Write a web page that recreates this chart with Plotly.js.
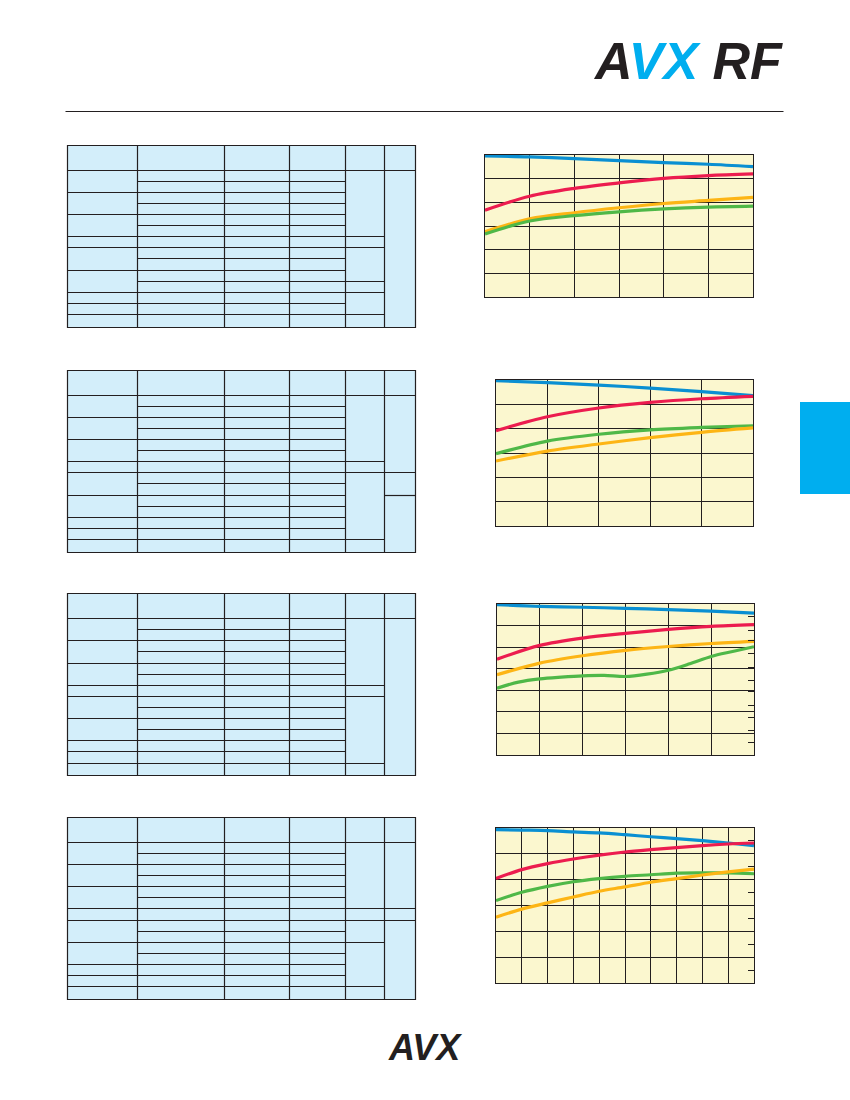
<!DOCTYPE html>
<html>
<head>
<meta charset="utf-8">
<script src="https://cdn.plot.ly/plotly-3.0.1.min.js"></script>
<style>html,body{margin:0;padding:0;background:#fff;}#chart{width:850px;height:1100px;}</style>
</head>
<body>
<div id="chart"></div>
<script>
// ---------------- DATA (in grid units) ----------------
// Chart 1 : 6 x-divisions, 6 y-divisions
const x1 = [0, 1, 2, 3, 4, 5, 6];
const c1Blue   = [5.96, 5.92, 5.85, 5.76, 5.68, 5.61, 5.51];
const c1Red    = [3.67, 4.26, 4.59, 4.82, 5.01, 5.13, 5.20];
const c1Orange = [2.76, 3.30, 3.56, 3.77, 3.95, 4.08, 4.21];
const c1Green  = [2.66, 3.21, 3.44, 3.60, 3.72, 3.80, 3.84];

// Chart 2 : 5 x-divisions, 6 y-divisions
const x2 = [0, 1, 2, 3, 4, 5];
const c2Blue   = [5.97, 5.89, 5.79, 5.67, 5.52, 5.36];
const c2Red    = [3.92, 4.49, 4.85, 5.08, 5.23, 5.33];
const c2Green  = [2.97, 3.49, 3.77, 3.95, 4.05, 4.12];
const c2Orange = [2.67, 3.08, 3.37, 3.63, 3.85, 4.03];

// Chart 3 : 6 x-divisions, 7 y-divisions
const x3 = [0, 1, 2, 3, 4, 5, 6];
const c3Blue   = [6.97, 6.89, 6.85, 6.80, 6.74, 6.67, 6.58];
const c3Red    = [4.44, 5.08, 5.42, 5.64, 5.82, 5.96, 6.04];
const c3Orange = [3.72, 4.26, 4.60, 4.85, 5.03, 5.17, 5.27];
const x3g      = [0, 0.5, 1, 1.5, 2, 2.5, 3, 3.5, 4, 4.5, 5, 5.5, 6];
const c3Green  = [3.10, 3.38, 3.53, 3.61, 3.67, 3.69, 3.64, 3.75, 3.93, 4.23, 4.57, 4.80, 5.02];
const c3RightTicks = [0.56, 1.15, 1.73, 2.31, 2.93, 3.47, 4.07, 4.71, 5.31, 5.76, 6.43];

// Chart 4 : 10 x-divisions, 6 y-divisions
const x4 = [0, 1, 2, 3, 4, 5, 6, 7, 8, 9, 10];
const c4Blue   = [5.94, 5.92, 5.90, 5.85, 5.81, 5.74, 5.66, 5.59, 5.51, 5.42, 5.32];
const c4Red    = [4.05, 4.39, 4.62, 4.80, 4.95, 5.07, 5.16, 5.24, 5.32, 5.38, 5.42];
const c4Green  = [3.19, 3.51, 3.74, 3.92, 4.04, 4.13, 4.19, 4.25, 4.26, 4.26, 4.23];
const c4Orange = [2.55, 2.86, 3.10, 3.33, 3.55, 3.72, 3.90, 4.04, 4.18, 4.30, 4.41];
const c4RightTicks = [0.5, 1.5, 2.5, 3.5, 4.5, 5.5];

// ---------------- STYLE ----------------
const BLUE = '#0a8fd2', RED = '#ec1c4f', ORANGE = '#fdb515', GREEN = '#4fb848';
const INK = '#231f20', PLOTBG = '#fbf7cf', TABLEBG = '#d3eefa', TAB = '#00aeef';
const W = 850, H = 1100;
const crisp = v => Math.round(v - 0.5) + 0.5;
const px = v => crisp(v) / W;
const py = v => 1 - crisp(v) / H;
const dx = v => v / W;
const dy = v => 1 - v / H;

function line(x, y, color, xa, ya) {
  return {x: x, y: y, type: 'scatter', mode: 'lines', xaxis: xa, yaxis: ya,
    line: {color: color, width: 3.2, shape: 'spline', smoothing: 0.9},
    hoverinfo: 'skip', showlegend: false};
}

const data = [
  line(x1, c1Blue, BLUE, 'x', 'y'), line(x1, c1Red, RED, 'x', 'y'),
  line(x1, c1Orange, ORANGE, 'x', 'y'), line(x1, c1Green, GREEN, 'x', 'y'),
  line(x2, c2Blue, BLUE, 'x2', 'y2'), line(x2, c2Red, RED, 'x2', 'y2'),
  line(x2, c2Green, GREEN, 'x2', 'y2'), line(x2, c2Orange, ORANGE, 'x2', 'y2'),
  line(x3, c3Blue, BLUE, 'x3', 'y3'), line(x3, c3Red, RED, 'x3', 'y3'),
  line(x3, c3Orange, ORANGE, 'x3', 'y3'), line(x3g, c3Green, GREEN, 'x3', 'y3'),
  line(x4, c4Blue, BLUE, 'x4', 'y4'), line(x4, c4Red, RED, 'x4', 'y4'),
  line(x4, c4Green, GREEN, 'x4', 'y4'), line(x4, c4Orange, ORANGE, 'x4', 'y4'),
  // invisible traces anchoring the right-side tick axes
  {x: [0], y: [0], xaxis: 'x3', yaxis: 'y5', mode: 'markers', marker: {opacity: 0}, hoverinfo: 'skip', showlegend: false},
  {x: [0], y: [0], xaxis: 'x4', yaxis: 'y6', mode: 'markers', marker: {opacity: 0}, hoverinfo: 'skip', showlegend: false}
];

function xax(domain, n, anchor) {
  return {domain: [dx(domain[0]), dx(domain[1])], range: [0, n], dtick: 1, tick0: 0,
    showgrid: true, gridcolor: INK, gridwidth: 1, showline: true, mirror: true,
    linecolor: INK, linewidth: 1, zeroline: false, showticklabels: false,
    ticks: '', anchor: anchor, fixedrange: true};
}
function yax(domain, n, anchor) {
  return {domain: [dy(domain[1]), dy(domain[0])], range: [0, n], dtick: 1, tick0: 0,
    showgrid: true, gridcolor: INK, gridwidth: 1, showline: true, mirror: true,
    linecolor: INK, linewidth: 1, zeroline: false, showticklabels: false,
    ticks: '', anchor: anchor, fixedrange: true};
}

const layout = {
  width: W, height: H, margin: {l: 0, r: 0, t: 0, b: 0},
  paper_bgcolor: '#ffffff', plot_bgcolor: PLOTBG, showlegend: false, hovermode: false,
  font: {family: 'Liberation Sans, Arial, sans-serif', color: INK},
  xaxis:  xax([485, 753], 6, 'y'),  yaxis:  yax([155, 297], 6, 'x'),
  xaxis2: xax([496, 753], 5, 'y2'), yaxis2: yax([380, 526], 6, 'x2'),
  xaxis3: xax([497, 754], 6, 'y3'), yaxis3: yax([604, 755], 7, 'x3'),
  xaxis4: xax([496, 754], 10, 'y4'), yaxis4: yax([828, 983], 6, 'x4'),
  yaxis5: {overlaying: 'y3', side: 'right', anchor: 'x3', range: [0, 7], tickmode: 'array',
    tickvals: c3RightTicks, ticks: 'inside', ticklen: 6, tickwidth: 1, tickcolor: INK,
    showticklabels: false, showgrid: false, zeroline: false, showline: false, fixedrange: true},
  yaxis6: {overlaying: 'y4', side: 'right', anchor: 'x4', range: [0, 6], tickmode: 'array',
    tickvals: c4RightTicks, ticks: 'inside', ticklen: 6, tickwidth: 1, tickcolor: INK,
    showticklabels: false, showgrid: false, zeroline: false, showline: false, fixedrange: true},
  shapes: [],
  annotations: []
};

// ---------------- PAGE DECORATION ----------------
// header rule
layout.shapes.push({type: 'line', xref: 'paper', yref: 'paper', x0: px(65), x1: px(783), y0: py(111), y1: py(111),
  line: {color: INK, width: 1}});
// blue side tab
layout.shapes.push({type: 'rect', xref: 'paper', yref: 'paper', x0: dx(800), x1: dx(850), y0: dy(494), y1: dy(402),
  fillcolor: TAB, line: {width: 0}});

// tables (empty grid structure)
const cols = [67.3, 137.3, 224.3, 289.3, 345.3, 384.3, 415.7];
const tables = [
  {top: 145.3, bottom: 327.3, header: 170.3, rows: [
    [181.3, 1, 4], [192.3, 0, 4], [203.3, 1, 4], [214.3, 0, 4], [225.3, 1, 4], [236.3, 0, 5],
    [247.3, 0, 5], [258.3, 1, 4], [270.3, 0, 4], [281.3, 1, 5], [292.3, 0, 5], [303.3, 0, 4], [314.3, 0, 5]]},
  {top: 370.3, bottom: 552.3, header: 395.3, rows: [
    [406.3, 1, 4], [417.3, 0, 4], [428.3, 1, 4], [439.3, 0, 4], [450.3, 1, 4], [461.3, 0, 5],
    [472.3, 0, 6], [483.3, 1, 4], [495.3, 0, 4], [495.3, 5, 6], [506.3, 1, 4], [517.3, 0, 4],
    [528.3, 0, 4], [539.3, 0, 5]]},
  {top: 593.3, bottom: 775.3, header: 618.3, rows: [
    [629.3, 1, 4], [640.3, 0, 4], [651.3, 1, 4], [663.3, 0, 4], [674.3, 1, 4], [685.3, 0, 5],
    [696.3, 0, 5], [707.3, 1, 4], [718.3, 0, 4], [729.3, 1, 4], [740.3, 0, 4], [751.3, 0, 4], [763.3, 0, 5]]},
  {top: 817.3, bottom: 999.3, header: 842.3, rows: [
    [853.3, 1, 4], [864.3, 0, 4], [875.3, 1, 4], [886.3, 0, 4], [897.3, 1, 4], [908.3, 0, 6],
    [920.3, 0, 6], [931.3, 1, 4], [942.3, 0, 5], [953.3, 1, 4], [964.3, 0, 4], [975.3, 0, 4], [986.3, 0, 5]]}
];
tables.forEach(t => {
  layout.shapes.push({type: 'rect', xref: 'paper', yref: 'paper',
    x0: px(cols[0]), x1: px(cols[6]), y0: py(t.bottom), y1: py(t.top),
    fillcolor: TABLEBG, line: {color: INK, width: 1.2}, layer: 'below'});
  layout.shapes.push({type: 'line', xref: 'paper', yref: 'paper',
    x0: px(cols[0]), x1: px(cols[6]), y0: py(t.header), y1: py(t.header), line: {color: INK, width: 1.2}});
  for (let c = 1; c <= 5; c++) {
    layout.shapes.push({type: 'line', xref: 'paper', yref: 'paper',
      x0: px(cols[c]), x1: px(cols[c]), y0: py(t.bottom), y1: py(t.top), line: {color: INK, width: 1.2}});
  }
  t.rows.forEach(r => {
    layout.shapes.push({type: 'line', xref: 'paper', yref: 'paper',
      x0: px(cols[r[1]]), x1: px(cols[r[2]]), y0: py(r[0]), y1: py(r[0]), line: {color: INK, width: 1.2}});
  });
});

// logos
layout.annotations.push({xref: 'paper', yref: 'paper', x: dx(785), y: dy(61), xanchor: 'right', yanchor: 'middle',
  showarrow: false, font: {family: 'Liberation Sans, Arial, sans-serif', size: 52, color: INK},
  text: '<b><i><span style="color:#231f20">A</span><span style="color:#00aeef">VX</span> RF</i></b>'});
layout.annotations.push({xref: 'paper', yref: 'paper', x: dx(425), y: dy(1047), xanchor: 'center', yanchor: 'middle',
  showarrow: false, font: {family: 'Liberation Sans, Arial, sans-serif', size: 36, color: INK},
  text: '<b><i>AVX</i></b>'});

Plotly.newPlot('chart', data, layout, {displayModeBar: false, responsive: false});
</script>
</body>
</html>
